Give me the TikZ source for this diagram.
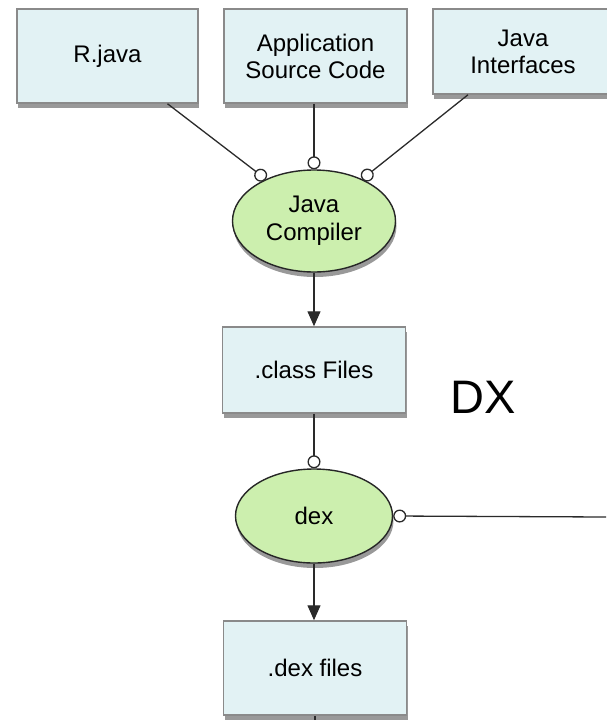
\documentclass[tikz,border=0pt]{standalone}
\usepackage{fontspec}
\setmainfont{Liberation Sans}
\usetikzlibrary{arrows.meta,shapes.geometric,shadows}
\definecolor{boxfill}{HTML}{E2F2F4}
\definecolor{boxline}{HTML}{8A8A8A}
\definecolor{ellfill}{HTML}{CCEFAE}
\definecolor{conline}{HTML}{2A2A2A}
\tikzset{
  filebox/.style={draw=boxline, line width=1.5pt, fill=boxfill, inner sep=0pt,
    align=center, font=\fontsize{24}{27}\selectfont,
    drop shadow={shadow xshift=1pt, shadow yshift=-5pt, opacity=0.4, fill=black}},
  tool/.style={ellipse, draw=black!85, line width=1.4pt, fill=ellfill, inner sep=0pt,
    align=center, font=\fontsize{24}{28}\selectfont,
    drop shadow={shadow xshift=1pt, shadow yshift=-5pt, opacity=0.4, fill=black}},
  conn/.style={draw=conline, line width=1.3pt},
  ocirc/.style={conn, {Circle[open, length=13pt, width=13pt, fill=white, line width=1.3pt]}-},
  circend/.style={conn, -{Circle[open, length=13pt, width=13pt, fill=white, line width=1.3pt]}},
  arr/.style={conn, -{Triangle[width=13pt, length=15pt]}},
}
\begin{document}
\begin{tikzpicture}[x=1pt, y=-1pt]
\useasboundingbox (0,0) rectangle (606,720);
\node[filebox, minimum width=181pt, minimum height=94pt] (rjava) at (107.5,56) {R.java};
\node[filebox, minimum width=183pt, minimum height=94pt] (app) at (315.5,56) {Application\\Source Code};
\node[filebox, minimum width=180pt, minimum height=85pt] (jif) at (523,51.5) {Java\\Interfaces};
\node[tool, minimum width=163pt, minimum height=102pt] (jc) at (314,221) {Java\\Compiler};
\node[filebox, minimum width=183pt, minimum height=86pt] (cls) at (314,370) {.class Files};
\node[font=\fontsize{47}{50}\selectfont, inner sep=0pt] (dx) at (483.5,397.5) {DX};
\node[tool, minimum width=157pt, minimum height=94pt] (dex) at (314,516) {dex};
\node[filebox, minimum width=183pt, minimum height=94pt] (dexf) at (315,668) {.dex files};
\coordinate (rightend) at (606,517);
\coordinate (bottomend) at (315,722);

\draw[circend] ([xshift=60pt]rjava.south) -- (jc.139);
\draw[circend] ([xshift=-1.5pt]app.south) -- (jc.north);
\draw[circend] ([xshift=-55pt]jif.south) -- (jc.41);
\draw[arr] (jc.south) -- (cls.north);
\draw[circend] (cls.south) -- (dex.north);
\draw[ocirc] (dex.east) -- (rightend);
\draw[arr] (dex.south) -- ([xshift=-1pt]dexf.north);
\draw[conn] (dexf.south) -- (bottomend);
\end{tikzpicture}
\end{document}
